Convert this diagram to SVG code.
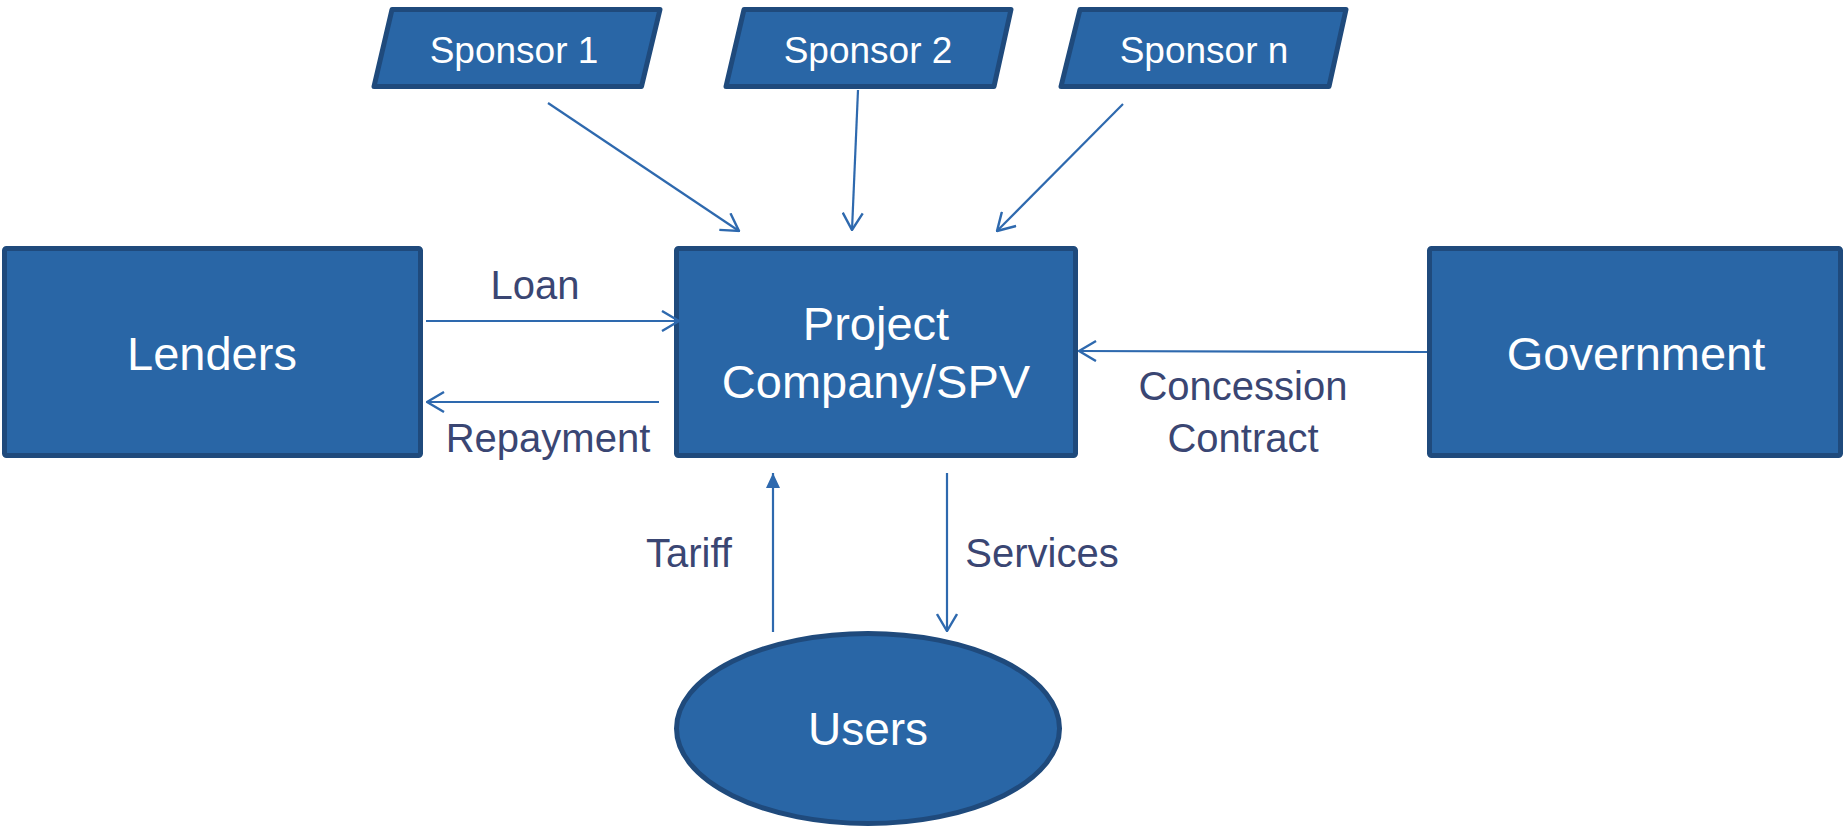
<svg xmlns="http://www.w3.org/2000/svg" width="1845" height="829" viewBox="0 0 1845 829">
<style>
.node{fill:#2966A6;stroke:#1F4A7C;stroke-width:5;stroke-linejoin:round}
.nt{font-family:"Liberation Sans",Arial,sans-serif;fill:#FFFFFF;text-anchor:middle}
.lbl{font-family:"Liberation Sans",Arial,sans-serif;fill:#3A4673;font-size:40px;text-anchor:middle}
.edge{stroke:#2E69AE;stroke-width:2.2;fill:none}
</style>
<defs>
<marker id="open" viewBox="0 0 20 22" refX="19" refY="11" markerWidth="20" markerHeight="22" markerUnits="userSpaceOnUse" orient="auto">
<path d="M2,1 L19,11 L2,21" fill="none" stroke="#2E69AE" stroke-width="2.4"/>
</marker>
<marker id="solid" viewBox="0 0 16 16" refX="15" refY="8" markerWidth="16" markerHeight="16" markerUnits="userSpaceOnUse" orient="auto">
<path d="M0,1 L15,8 L0,15 Z" fill="#2E69AE"/>
</marker>
</defs>
<rect width="1845" height="829" fill="#FFFFFF"/>
<g id="sponsor1">
<polygon class="node" points="392,9.5 660,9.5 641.5,86.5 374,86.5"/>
<text class="nt" x="514" y="63" font-size="37">Sponsor 1</text>
</g>
<g id="sponsor2">
<polygon class="node" points="744,9.5 1011,9.5 994,86.5 726,86.5"/>
<text class="nt" x="868" y="63" font-size="37">Sponsor 2</text>
</g>
<g id="sponsorn">
<polygon class="node" points="1080,9.5 1346,9.5 1329,86.5 1061,86.5"/>
<text class="nt" x="1204" y="63" font-size="37">Sponsor n</text>
</g>
<g id="lenders">
<rect class="node" x="4.5" y="248.5" width="416" height="207" rx="2"/>
<text class="nt" x="212" y="370" font-size="47">Lenders</text>
</g>
<g id="project">
<rect class="node" x="676.5" y="248.5" width="399" height="207" rx="2"/>
<text class="nt" x="876" y="340" font-size="47">Project</text>
<text class="nt" x="876" y="398" font-size="47">Company/SPV</text>
</g>
<g id="government">
<rect class="node" x="1429.5" y="248.5" width="411" height="207" rx="2"/>
<text class="nt" x="1636" y="370" font-size="47">Government</text>
</g>
<g id="users">
<ellipse class="node" cx="868" cy="728.5" rx="191.5" ry="95"/>
<text class="nt" x="868" y="745" font-size="46">Users</text>
</g>
<g id="connectors">
<line class="edge" x1="548" y1="103" x2="739" y2="231" marker-end="url(#open)"/>
<line class="edge" x1="858" y1="90" x2="852" y2="230" marker-end="url(#open)"/>
<line class="edge" x1="1123" y1="104" x2="997" y2="231" marker-end="url(#open)"/>
<line class="edge" x1="426" y1="321" x2="679" y2="321" marker-end="url(#open)"/>
<line class="edge" x1="659" y1="402" x2="427" y2="402" marker-end="url(#open)"/>
<line class="edge" x1="1427" y1="352" x2="1079" y2="351" marker-end="url(#open)"/>
<line class="edge" x1="773" y1="632" x2="773" y2="473" marker-end="url(#solid)"/>
<line class="edge" x1="947" y1="473" x2="947" y2="631" marker-end="url(#open)"/>
<text class="lbl" x="535" y="299">Loan</text>
<text class="lbl" x="548" y="452">Repayment</text>
<text class="lbl" x="1243" y="400">Concession</text>
<text class="lbl" x="1243" y="452">Contract</text>
<text class="lbl" x="689" y="567">Tariff</text>
<text class="lbl" x="1042" y="567">Services</text>
</g>
</svg>
